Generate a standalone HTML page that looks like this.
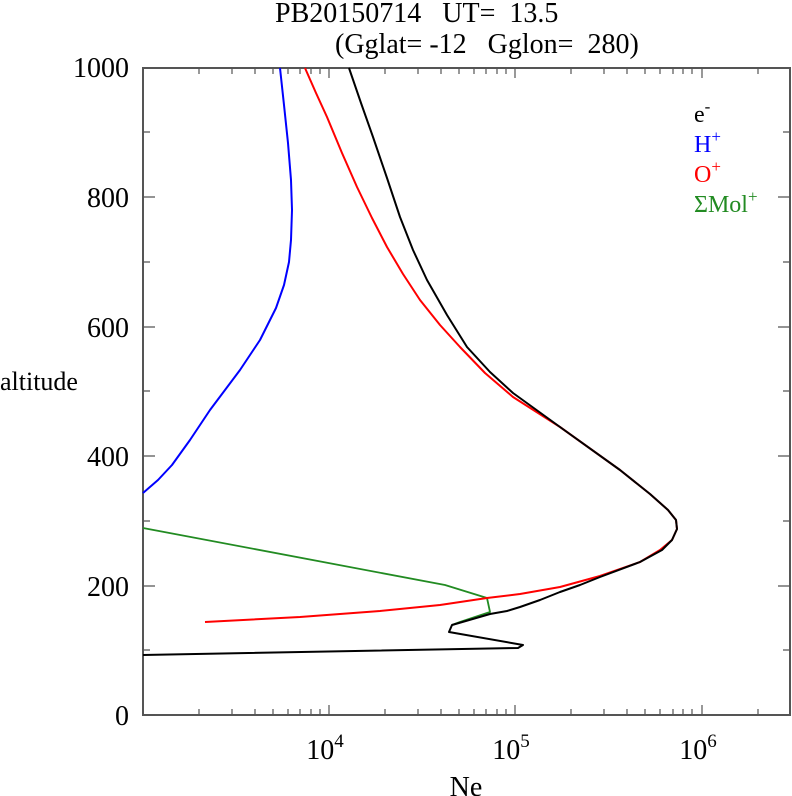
<!DOCTYPE html>
<html><head><meta charset="utf-8"><style>
body{margin:0;background:#fff;}
svg{display:block;font-family:"Liberation Serif",serif;}
</style></head><body>
<svg width="792" height="796" viewBox="0 0 792 796" xmlns="http://www.w3.org/2000/svg">
<text x="275" y="22" font-size="28" xml:space="preserve">PB20150714   UT=  13.5</text>
<text x="335" y="53" font-size="28" xml:space="preserve">(Gglat= -12   Gglon=  280)</text>
<g stroke="#555" stroke-width="2" fill="none">
<rect x="143" y="68" width="647" height="647"/>
</g>
<g stroke="#555" stroke-width="1.2">
<path d="M143 715h12M143 650h7M143 586h12M143 521h7M143 456h12M143 391h7M143 327h12M143 262h7M143 197h12M143 132h7
M790 650h-7M790 586h-12M790 521h-7M790 456h-12M790 391h-7M790 327h-12M790 262h-7M790 197h-12M790 132h-7"/>
<path d="M329 715v-10M515 715v-10M702 715v-10M329 68v10M515 68v10M702 68v10
M199 715v-6M232 715v-6M255 715v-6M273 715v-6M288 715v-6M300 715v-6M311 715v-6M320 715v-6
M385 715v-6M418 715v-6M441 715v-6M459 715v-6M474 715v-6M486 715v-6M497 715v-6M506 715v-6
M571 715v-6M604 715v-6M627 715v-6M645 715v-6M660 715v-6M673 715v-6M683 715v-6M692 715v-6
M758 715v-6
M199 68v6M232 68v6M255 68v6M273 68v6M288 68v6M300 68v6M311 68v6M320 68v6
M385 68v6M418 68v6M441 68v6M459 68v6M474 68v6M486 68v6M497 68v6M506 68v6
M571 68v6M604 68v6M627 68v6M645 68v6M660 68v6M673 68v6M683 68v6M692 68v6
M758 68v6"/>
</g>
<g font-size="28" text-anchor="end">
<text x="129" y="77">1000</text>
<text x="129" y="207">800</text>
<text x="129" y="337">600</text>
<text x="129" y="466">400</text>
<text x="129" y="596">200</text>
<text x="129" y="725">0</text>
</g>
<text x="0" y="390" font-size="26">altitude</text>
<g font-size="28" text-anchor="middle">
<text x="325" y="759">10<tspan font-size="19" dy="-12">4</tspan></text>
<text x="511" y="759">10<tspan font-size="19" dy="-12">5</tspan></text>
<text x="698" y="759">10<tspan font-size="19" dy="-12">6</tspan></text>
<text x="466" y="796">Ne</text>
</g>
<g font-size="24">
<text x="694" y="122" fill="#000">e<tspan font-size="17" dy="-10">-</tspan></text>
<text x="694" y="152" fill="#00f">H<tspan font-size="17" dy="-10">+</tspan></text>
<text x="694" y="182" fill="#f00">O<tspan font-size="17" dy="-10">+</tspan></text>
<text x="694" y="212" fill="#228b22">ΣMol<tspan font-size="17" dy="-10">+</tspan></text>
</g>
<g fill="none" stroke-width="2" stroke-linejoin="round">
<path stroke="#00f" d="M280 68 L284 105 L288 143 L291 180 L292 210 L291 240 L289 262 L284 285 L276 308 L260 340 L240 370 L210 410 L190 440 L172 465 L158 480 L143 493"/>
<path stroke="#228b22" stroke-width="1.8" d="M143 528 L445 585 L487 598 L490 612 L460 622 L452 625"/>
<path stroke="#f00" d="M305 68 L316 93 L327 117 L342 153 L357 187 L372 218 L387 247 L403 274 L420 300 L440 325 L460 347 L485 373 L513 397 L560 427 L620 470 L650 494 L668 510 L676 520 L677 529 L672 540 L660 550 L640 562 L600 576 L560 587 L520 594 L487 598 L440 605 L380 611 L300 617 L205 622"/>
<path stroke="#000" d="M349 68 L361 103 L373 137 L387 178 L400 217 L413 250 L427 280 L447 315 L467 347 L490 372 L513 393 L560 427 L620 470 L650 494 L668 510 L676 520 L677 529 L672 540 L662 550 L640 562 L600 577 L580 585 L560 592 L540 600 L520 607 L507 611 L490 614 L452 625 L449 632 L523 645 L518 648 L143 655"/>
</g>
</svg>
</body></html>
